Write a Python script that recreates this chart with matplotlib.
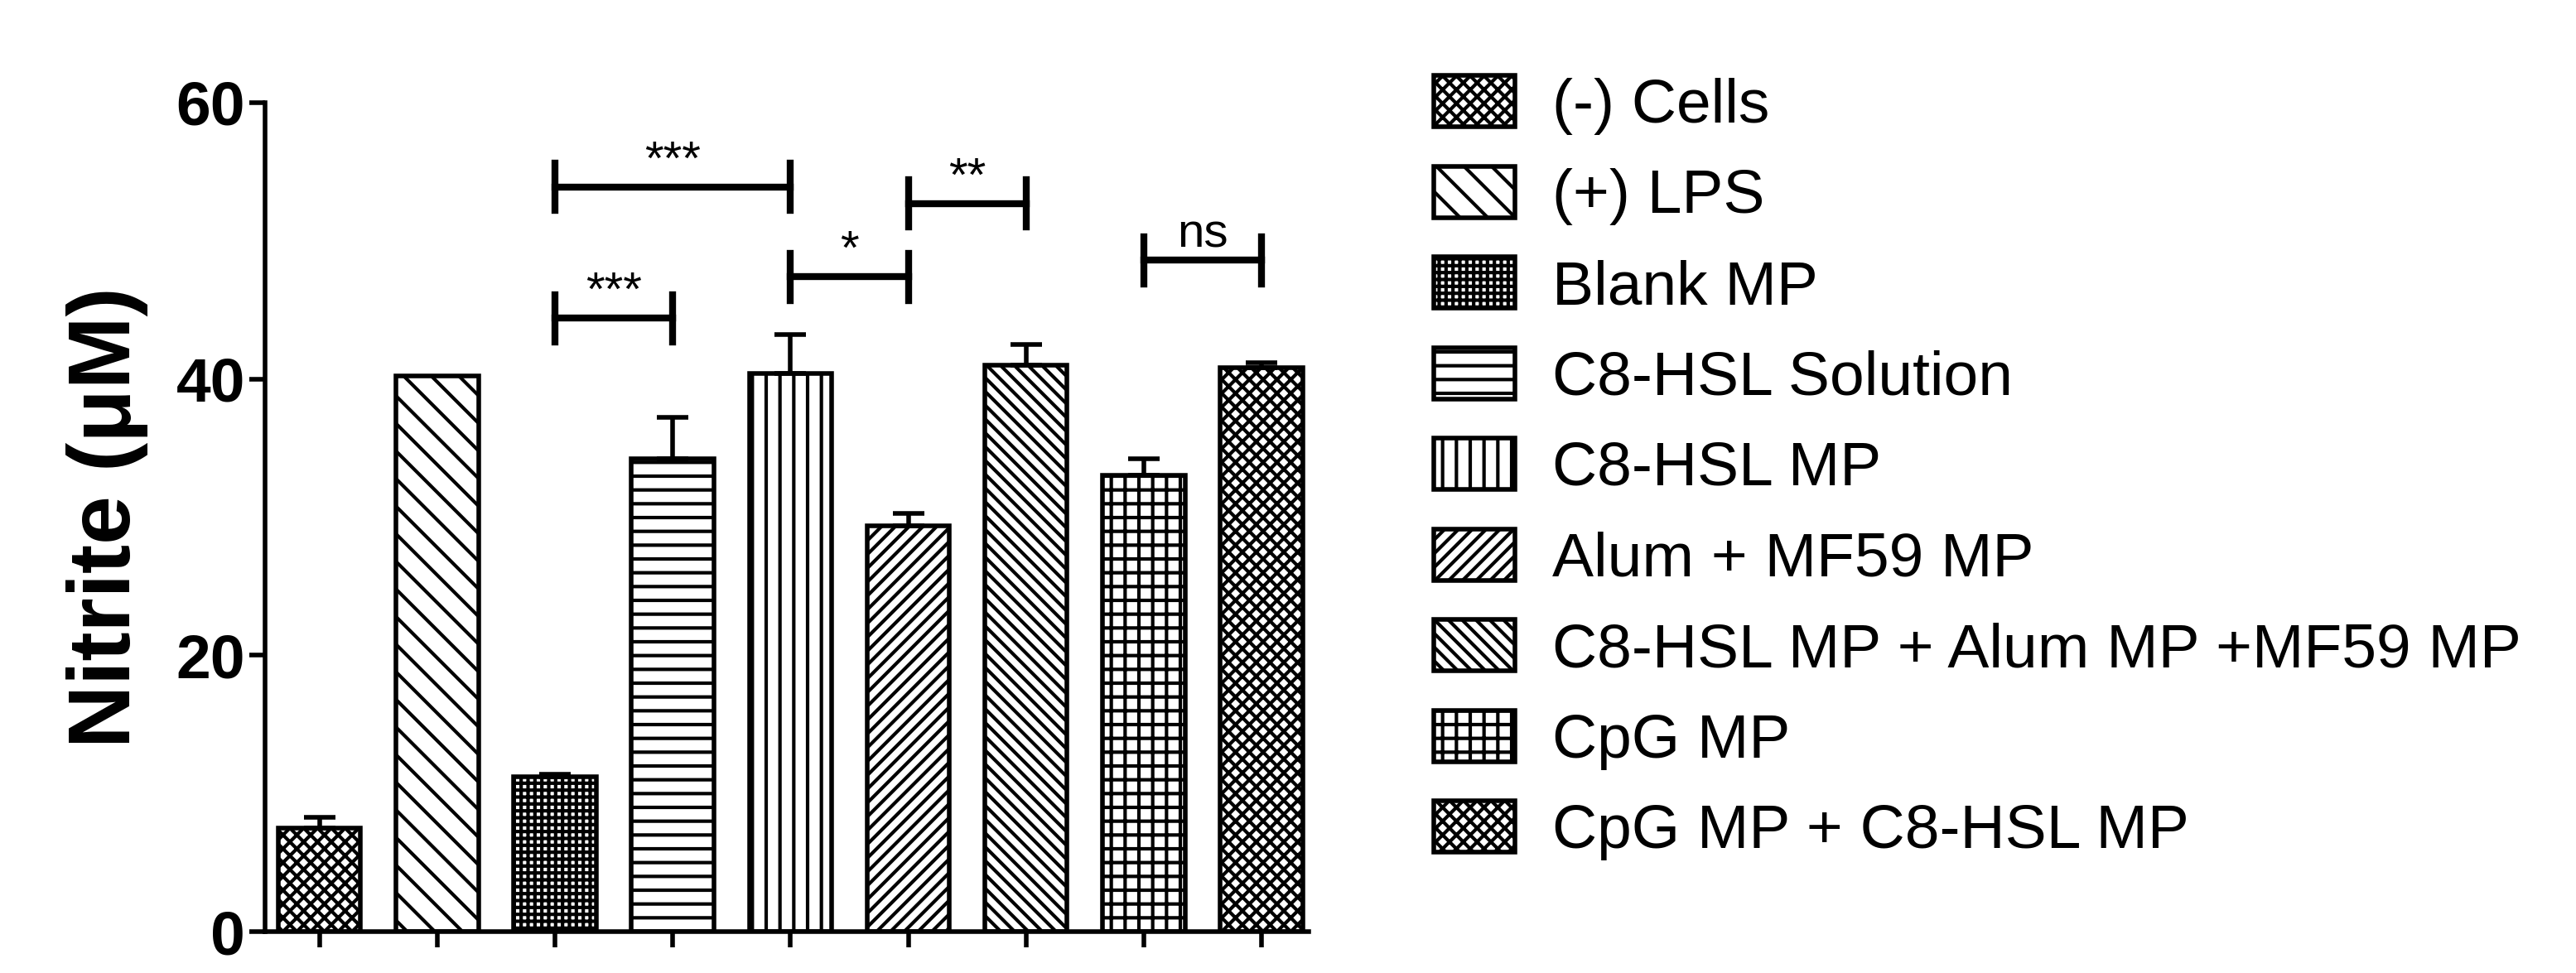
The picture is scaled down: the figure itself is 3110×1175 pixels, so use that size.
import matplotlib
matplotlib.use("Agg")
import matplotlib.pyplot as plt
import numpy as np

categories = ["(-) Cells", "(+) LPS", "Blank MP", "C8-HSL Solution", "C8-HSL MP",
              "Alum + MF59 MP", "C8-HSL MP + Alum MP +MF59 MP", "CpG MP", "CpG MP + C8-HSL MP"]
values = [7.5, 40.2, 11.2, 34.2, 40.4, 29.4, 41.0, 33.0, 40.8]
errors = [0.8, 0.0, 0.2, 3.0, 2.8, 0.9, 1.5, 1.2, 0.4]
hatches = ["xx", "\\", "++", "-", "|", "//", "\\\\", "+", "xx"]
sig_pairs = [(2, 4, 53.9, "***"), (2, 3, 44.4, "***"), (4, 5, 47.4, "*"), (5, 6, 52.7, "**"), (7, 8, 48.6, "ns")]

plt.rcParams['font.family'] = ['Liberation Sans', 'DejaVu Sans']
plt.rcParams['hatch.linewidth'] = 3
fig = plt.figure(figsize=(31.1, 11.75), dpi=100)
ax = fig.add_axes([0.103, 0.0425, 0.405, 0.852])
x = np.arange(len(values))
bars = []
for i in x:
    b = ax.bar(i, values[i], width=0.7, color="white", edgecolor="black", linewidth=4,
               hatch=hatches[i], label=categories[i])
    bars.append(b)
    if errors[i] > 0:
        ax.errorbar(i, values[i], yerr=[[0], [errors[i]]], fmt="none", ecolor="black",
                    elinewidth=4, capsize=14, capthick=4)
for a, b, y, t in sig_pairs:
    ax.plot([a, b], [y, y], color="black", lw=6)
    for xx in (a, b):
        ax.plot([xx, xx], [y - 1.7, y + 1.7], color="black", lw=6)
    ax.text((a + b) / 2, y + 0.2, t, ha="center", va="bottom", fontsize=42)

ax.set_ylim(0, 60)
ax.set_xlim(-0.46, 8.4)
ax.set_yticks([0, 20, 40, 60])
ax.set_yticklabels(["0", "20", "40", "60"], fontsize=54, fontweight="bold")
ax.set_xticks(x)
ax.set_xticklabels([])
ax.tick_params(axis="both", width=4, length=14)
for s in ["top", "right"]:
    ax.spines[s].set_visible(False)
for s in ["left", "bottom"]:
    ax.spines[s].set_linewidth(4)
ax.set_ylabel("Nitrite (μM)", fontsize=76, fontweight="bold", labelpad=24)

fig.legend(handles=[b[0] for b in bars], labels=categories, loc="upper left",
           bbox_to_anchor=(0.535, 0.98), frameon=False, fontsize=54,
           handlelength=1.3, handleheight=0.9, labelspacing=0.5, handletextpad=0.6)
fig.savefig("out.png", dpi=100)
